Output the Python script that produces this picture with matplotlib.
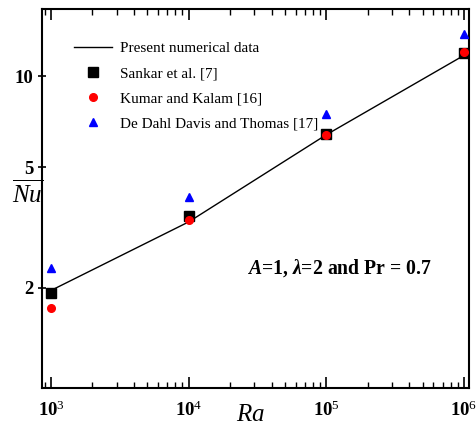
import matplotlib
matplotlib.use("Agg")
import matplotlib.pyplot as plt
from matplotlib.ticker import FixedLocator, NullFormatter, LogLocator
import numpy as np

plt.rcParams['font.family'] = ['Liberation Serif', 'DejaVu Serif']
plt.rcParams['mathtext.fontset'] = 'custom'
plt.rcParams['mathtext.rm'] = 'Liberation Serif'
plt.rcParams['mathtext.it'] = 'Liberation Serif:italic'
plt.rcParams['mathtext.bf'] = 'Liberation Serif:bold'
plt.rcParams['mathtext.bfit'] = 'Liberation Serif:bold:italic'

Ra = [1e3, 1e4, 1e5, 1e6]
present = [1.96, 3.30, 6.40, 11.7]
sankar = [1.92, 3.45, 6.44, 11.9]
kumar = [1.71, 3.35, 6.40, 12.0]
davis = [2.32, 3.98, 7.5, 13.8]
x_ticklabels = [r'$\mathbf{10}^{3}$', r'$\mathbf{10}^{4}$', r'$\mathbf{10}^{5}$', r'$\mathbf{10}^{6}$']
y_ticks = [2, 5, 10]
y_ticklabels = ['2', '5', '10']

fig = plt.figure(figsize=(4.76, 4.29), dpi=100)
ax = fig.add_axes([42/476, 41/429, 427/476, 379/429])

ax.plot(Ra, present, color='black', lw=1.0, label='Present numerical data', zorder=2)
ax.plot(Ra, sankar, ls='none', marker='s', ms=6.5, color='black', label='Sankar et al. [7]', zorder=3)
ax.plot(Ra, kumar, ls='none', marker='o', ms=5.5, color='red', label='Kumar and Kalam [16]', zorder=4)
ax.plot(Ra, davis, ls='none', marker='^', ms=6, color='blue', label='De Dahl Davis and Thomas [17]', zorder=4)

ax.set_xscale('log')
ax.set_yscale('log')
ax.set_xlim(10**2.9346, 10**6.0363)
ax.set_ylim(0.934, 16.64)

ax.xaxis.set_major_locator(FixedLocator(Ra))
ax.set_xticklabels(x_ticklabels)
ax.xaxis.set_minor_locator(LogLocator(base=10, subs=np.arange(2, 10)))
ax.xaxis.set_minor_formatter(NullFormatter())
ax.yaxis.set_major_locator(FixedLocator(y_ticks))
ax.set_yticklabels(y_ticklabels)
ax.yaxis.set_minor_locator(FixedLocator([]))

ax.tick_params(axis='x', which='major', direction='in', length=8, width=1.2, top=True, labelsize=13.5, pad=9)
ax.tick_params(axis='x', which='minor', direction='in', length=4, width=1.0, top=True)
ax.tick_params(axis='y', which='major', direction='inout', length=6, width=1.2, labelsize=13.5, pad=3)
for lab in ax.get_yticklabels():
    lab.set_fontweight('bold')
for s in ax.spines.values():
    s.set_linewidth(1.5)

leg = ax.legend(loc='upper left', bbox_to_anchor=(0.06, 0.93), frameon=False, fontsize=11,
                handlelength=2.5, handletextpad=0.5, labelspacing=0.75, borderaxespad=0)

ax.text(0.48, 0.317, r'$\mathbfit{A}$=1, $\mathbfit{λ}$=2 and Pr = 0.7', transform=ax.transAxes,
        fontsize=14.2, fontweight='bold', ha='left', va='center')

fig.text(28/476, 1 - 194/429, r'$\overline{Nu}$', fontsize=18, ha='center', va='center')
fig.text(250/476, 1 - 415/429, r'$Ra$', fontsize=18, ha='center', va='center')

fig.savefig('out.png', dpi=100)
